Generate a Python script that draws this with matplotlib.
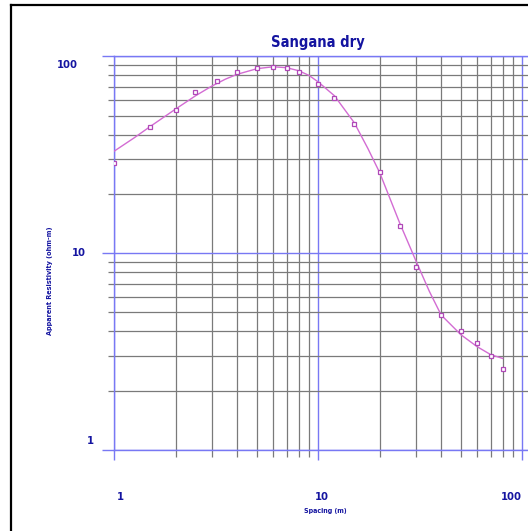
import numpy as np
import matplotlib
matplotlib.use("Agg")
import matplotlib.pyplot as plt
from matplotlib.lines import Line2D
from matplotlib.ticker import LogLocator, NullFormatter
from matplotlib import font_manager

# measured sounding data (spacing in m, apparent resistivity in ohm-m)
spacing = [1, 1.5, 2, 2.5, 3.2, 4, 5, 6, 7, 8, 10, 12, 15, 20, 25, 30, 40, 50, 60, 70, 80]
resistivity = [28.8, 43.5, 53.5, 66, 75, 83.5, 87, 88.5, 87, 83.5, 72.5, 61.5, 45.5,
               25.8, 13.8, 8.5, 4.83, 4.0, 3.49, 2.99, 2.58]

# model curve
model_x = [1, 1.25, 1.5, 2, 2.5, 3, 3.5, 4, 5, 6, 7, 8, 9, 10, 12, 15, 17.5, 20,
           25, 30, 35, 40, 50, 60, 70, 80]
model_y = [33, 38.5, 44, 54, 63, 70.5, 76.5, 81, 86.5, 88.5, 87.5, 84.5, 80, 74,
           63, 46, 34, 25.6, 14.3, 9.2, 6.4, 4.85, 3.85, 3.35, 3.05, 2.92]

xtick_vals = [1, 10, 100]
xtick_text = ["1", "10", "100"]
ytick_vals = [1, 10, 100]
ytick_text = ["1", "10", "100"]

W, H = 528, 531
navy = "#1414a0"
blue = "#7878f4"
grey = "#7a7a7a"

# condensed bold face if there is one
cond = [f.fname for f in font_manager.fontManager.ttflist
        if f.name == "DejaVu Sans" and f.stretch == "condensed" and f.weight in (700, "bold")]
if cond:
    fp = dict(fontproperties=font_manager.FontProperties(fname=cond[0]))
else:
    fp = dict(family="DejaVu Sans", fontweight="bold")


def txt(size):
    d = dict(fp)
    if "fontproperties" in d:
        p = d["fontproperties"].copy()
        p.set_size(size)
        d["fontproperties"] = p
    else:
        d["fontsize"] = size
    return d


fig = plt.figure(figsize=(W / 100, H / 100), dpi=100)
ax = fig.add_axes([114.3 / W, 1 - 450 / H, 416.5 / W, 393.7 / H])
ax.set_xscale("log")
ax.set_yscale("log")
ax.set_xlim(1, 110)
ax.set_ylim(1, 100)

ax.xaxis.set_major_locator(LogLocator(base=10, numticks=10))
ax.xaxis.set_minor_locator(LogLocator(base=10, subs=np.arange(2, 10), numticks=10))
ax.yaxis.set_major_locator(LogLocator(base=10, numticks=10))
ax.yaxis.set_minor_locator(LogLocator(base=10, subs=np.arange(2, 10), numticks=10))
ax.xaxis.set_minor_formatter(NullFormatter())
ax.yaxis.set_minor_formatter(NullFormatter())

ax.grid(which="major", color=blue, lw=1.0)
ax.grid(which="minor", color=grey, lw=0.9)
ax.set_axisbelow(True)

ax.spines["right"].set_visible(False)
for s in ["left", "bottom", "top"]:
    ax.spines[s].set_color(blue)
    ax.spines[s].set_linewidth(1.0)

ax.tick_params(which="both", direction="out", labelleft=False, labelbottom=False)
ax.tick_params(axis="x", which="major", length=7.2, width=1.0, color=blue)
ax.tick_params(axis="x", which="minor", length=4.8, width=0.9, color=grey)
ax.tick_params(axis="y", which="major", length=9, width=1.0, color=blue)
ax.tick_params(axis="y", which="minor", length=4.5, width=0.9, color=grey)

# curve and points
ax.plot(model_x, model_y, color="#d36cd3", lw=1.0, zorder=3)
ax.plot(spacing, resistivity, ls="none", marker="s", ms=3.2, mfc="white",
        mec="#b048b8", mew=0.9, zorder=4)

# tick labels (placed like the original)
ydx = [-24, -35, -47]
ydy = [9, 0, -9]
for v, t, dx, dy in zip(ytick_vals, ytick_text, ydx, ydy):
    ax.annotate(t, xy=(0, v), xycoords=("axes fraction", "data"),
                xytext=(dx, dy), textcoords="offset pixels", ha="center",
                va="center", color=navy, **txt(8))
xdx = [6, 3, -11]
for v, t, dx in zip(xtick_vals, xtick_text, xdx):
    ax.annotate(t, xy=(v, 0), xycoords=("data", "axes fraction"),
                xytext=(dx, -47), textcoords="offset pixels", ha="center",
                va="center", color=navy, **txt(8))

fig.text(325 / W, 1 - 510.5 / H, "Spacing (m)", ha="center", va="center",
         color=navy, **txt(5))
fig.text(50 / W, 1 - 281 / H, "Apparent Resistivity (ohm-m)", ha="center",
         va="center", rotation=90, color=navy, **txt(5.2))
fig.text(318.3 / W, 1 - 42 / H, "Sangana dry", ha="center", va="center",
         color=navy, **txt(10.5))

# black frame of the screenshot (left and top)
fig.add_artist(Line2D([11 / W, 11 / W], [0, 1 - 4.8 / H], transform=fig.transFigure,
                      color="black", lw=1.6))
fig.add_artist(Line2D([11 / W, 1], [1 - 4.8 / H, 1 - 4.8 / H], transform=fig.transFigure,
                      color="black", lw=1.6))

fig.savefig("out.png", dpi=100)
